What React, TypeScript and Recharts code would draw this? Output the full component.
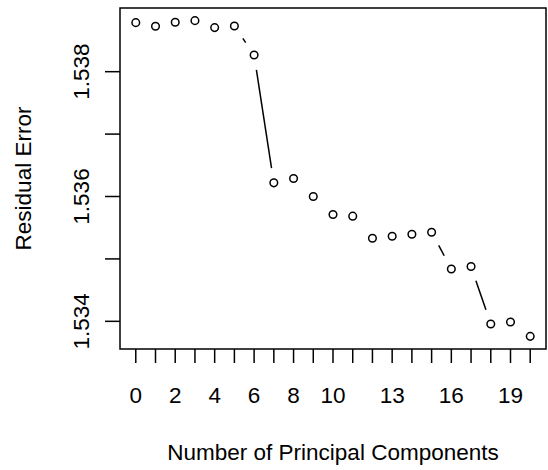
import React from "react";
import { LineChart, Line, XAxis, YAxis } from "recharts";

// number of principal components on the x axis
const components = [0, 1, 2, 3, 4, 5, 6, 7, 8, 9, 10, 11, 12, 13, 14, 15, 16, 17, 18, 19, 20];

// residual error
const residualError = [
  1.538786, 1.538728, 1.538792, 1.538818, 1.538706, 1.538733, 1.538268, 1.536219,
  1.536289, 1.536, 1.535712, 1.535685, 1.535332, 1.535364, 1.535396, 1.535428,
  1.534839, 1.534878, 1.533957, 1.533989, 1.533759,
];

const xTicks = components;
const xTickLabels = [0, 2, 4, 6, 8, 10, 13, 16, 19];
const yTicks = [1.534, 1.535, 1.536, 1.537, 1.538];
const yTickLabels = [1.534, 1.536, 1.538];

const data = components.map((k, i) => ({ k, v: residualError[i] }));

// R style 4% padding on both axes
const pad = (lo: number, hi: number): [number, number] => {
  const r = hi - lo;
  return [lo - r * 0.04, hi + r * 0.04];
};
const xDomain = pad(Math.min(...components), Math.max(...components));
const yDomain = pad(Math.min(...residualError), Math.max(...residualError));

const FONT = "'Liberation Sans', Arial, Helvetica, sans-serif";
const FS = 22.5;
const GAP = 15; // gap around points for type = "b"

// plot box
const PL = 120;
const PT = 8;
const PR = 2;
const PB = 121;
const W = 548;
const H = 470;

let lastPt: { x: number; y: number } | null = null;

const renderDot = (props: any) => {
  const { cx, cy, index } = props;
  let seg = null;
  if (index === 0) lastPt = null;
  if (lastPt) {
    const dx = cx - lastPt.x;
    const dy = cy - lastPt.y;
    const d = Math.hypot(dx, dy);
    if (d > 2 * GAP) {
      const ux = dx / d;
      const uy = dy / d;
      seg = (
        <line
          x1={lastPt.x + ux * GAP}
          y1={lastPt.y + uy * GAP}
          x2={cx - ux * GAP}
          y2={cy - uy * GAP}
          stroke="#000"
          strokeWidth={1.5}
        />
      );
    }
  }
  lastPt = { x: cx, y: cy };
  return (
    <g key={`pt-${index}`}>
      {seg}
      <circle cx={cx} cy={cy} r={3.8} fill="none" stroke="#000" strokeWidth={1.5} />
    </g>
  );
};

const XTick = (props: any) => {
  const { x, y, payload } = props;
  if (!xTickLabels.includes(payload.value)) return <g />;
  return (
    <text x={x} y={y + 40} textAnchor="middle" fontFamily={FONT} fontSize={FS} fill="#000">
      {payload.value}
    </text>
  );
};

const YTick = (props: any) => {
  const { x, y, payload } = props;
  if (!yTickLabels.some((t) => Math.abs(t - payload.value) < 1e-9)) return <g />;
  const tx = x - 16;
  return (
    <text
      x={tx}
      y={y}
      transform={`rotate(-90 ${tx} ${y})`}
      textAnchor="middle"
      fontFamily={FONT}
      fontSize={FS}
      fill="#000"
    >
      {payload.value.toFixed(3)}
    </text>
  );
};

export default function App() {
  const cxMid = PL + (W - PL - PR) / 2;
  const cyMid = PT + (H - PT - PB) / 2;
  return (
    <div style={{ position: "absolute", left: 0, top: 0, width: W, height: H, background: "#fff" }}>
      <LineChart
        width={W}
        height={H}
        data={data}
        margin={{ top: PT, right: PR, bottom: 0, left: 0 }}
      >
        <XAxis
          dataKey="k"
          type="number"
          domain={xDomain}
          ticks={xTicks}
          interval={0}
          height={PB}
          tickSize={14}
          tickMargin={0}
          axisLine={false}
          tickLine={{ stroke: "#000", strokeWidth: 1.5 }}
          tick={XTick}
          allowDataOverflow
        />
        <YAxis
          type="number"
          domain={yDomain}
          ticks={yTicks}
          interval={0}
          width={PL}
          tickSize={15}
          tickMargin={0}
          axisLine={false}
          tickLine={{ stroke: "#000", strokeWidth: 1.5 }}
          tick={YTick}
          allowDataOverflow
        />
        <Line
          dataKey="v"
          stroke="none"
          dot={renderDot}
          activeDot={false}
          isAnimationActive={false}
        />
      </LineChart>
      <svg
        width={W}
        height={H}
        style={{ position: "absolute", left: 0, top: 0, pointerEvents: "none" }}
      >
        <rect
          x={PL}
          y={PT}
          width={W - PL - PR}
          height={H - PT - PB}
          fill="none"
          stroke="#000"
          strokeWidth={1.5}
        />
        <text x={cxMid} y={460} textAnchor="middle" fontFamily={FONT} fontSize={FS} fill="#000">
          Number of Principal Components
        </text>
        <text
          x={31}
          y={cyMid}
          transform={`rotate(-90 31 ${cyMid})`}
          textAnchor="middle"
          fontFamily={FONT}
          fontSize={FS}
          fill="#000"
        >
          Residual Error
        </text>
      </svg>
    </div>
  );
}
